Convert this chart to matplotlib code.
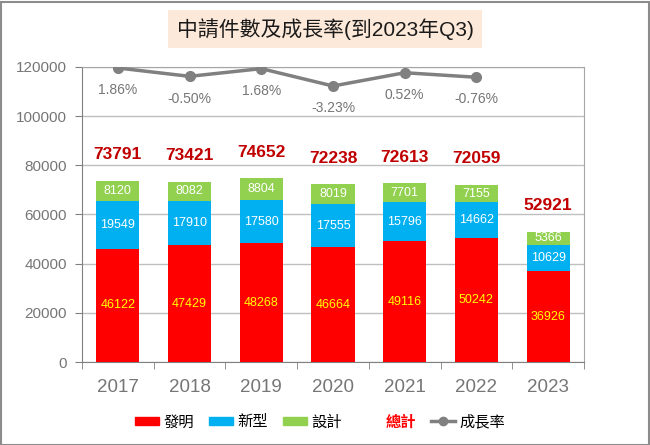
import matplotlib
matplotlib.use("Agg")
import matplotlib.pyplot as plt
from matplotlib.patches import Patch
from matplotlib.lines import Line2D

plt.rcParams['font.family'] = ['Liberation Sans', 'Noto Sans CJK TC', 'DejaVu Sans']

years = ['2017', '2018', '2019', '2020', '2021', '2022', '2023']
invention = [46122, 47429, 48268, 46664, 49116, 50242, 36926]
utility = [19549, 17910, 17580, 17555, 15796, 14662, 10629]
design = [8120, 8082, 8804, 8019, 7701, 7155, 5366]
totals = [73791, 73421, 74652, 72238, 72613, 72059, 52921]
growth_years = ['2017', '2018', '2019', '2020', '2021', '2022']
growth = [1.86, -0.50, 1.68, -3.23, 0.52, -0.76]
yticks = [0, 20000, 40000, 60000, 80000, 100000, 120000]

c_red = '#FF0000'
c_blue = '#00B0F0'
c_green = '#92D050'
c_gray = '#808080'
c_total = '#C00000'
c_tick = '#767676'

fig = plt.figure(figsize=(6.5, 4.45), dpi=100)
ax = fig.add_axes([82/650, 1-362/445, (584-82)/650, (362-67)/445])

x = list(range(len(years)))
w = 0.6
ax.bar(x, invention, w, color=c_red, zorder=3)
ax.bar(x, utility, w, bottom=invention, color=c_blue, zorder=3)
bottom3 = [a + b for a, b in zip(invention, utility)]
ax.bar(x, design, w, bottom=bottom3, color=c_green, zorder=3)

for i in x:
    ax.text(i, invention[i] / 2, str(invention[i]), ha='center', va='center',
            color='#FFFF00', fontsize=9, zorder=4)
    ax.text(i, invention[i] + utility[i] / 2, str(utility[i]), ha='center', va='center',
            color='white', fontsize=9, zorder=4)
    ax.text(i, bottom3[i] + design[i] / 2, str(design[i]), ha='center', va='center',
            color='white', fontsize=9, zorder=4)
    ax.annotate(str(totals[i]), (i, totals[i]), xytext=(0, 19), textcoords='offset points',
                ha='center', va='center', color=c_total, fontsize=12.5,
                fontweight='bold', zorder=4)

ax.set_ylim(0, 120000)
ax.set_xlim(-0.5, len(years) - 0.5)
ax.set_yticks(yticks)
ax.set_yticklabels([str(v) for v in yticks], fontsize=11, color=c_tick)
ax.set_xticks(x)
ax.set_xticklabels(years, fontsize=13.5, color=c_tick)
ax.tick_params(axis='x', length=0, pad=12)
ax.tick_params(axis='y', length=5, color=c_gray, pad=6)
ax.set_xticks([i - 0.5 for i in range(len(years) + 1)], minor=True)
ax.tick_params(axis='x', which='minor', length=5, color=c_gray)
ax.grid(axis='y', color='#BFBFBF', lw=1, zorder=0)
ax.set_axisbelow(True)
for s in ['left', 'bottom']:
    ax.spines[s].set_color(c_gray)
for s in ['right', 'top']:
    ax.spines[s].set_color('#A6A6A6')

ax2 = ax.twinx()
ax2.set_ylim(-81.2, 2.14)
gx = [years.index(g) for g in growth_years]
ax2.plot(gx, growth, color=c_gray, lw=2.5, marker='o', markersize=7, zorder=5)
for xi, g in zip(gx, growth):
    ax2.annotate(f'{g:.2f}%', (xi, g), xytext=(0, -16), textcoords='offset points',
                 ha='center', va='center', color=c_tick, fontsize=10)
ax2.set_yticks([])
for s in ax2.spines.values():
    s.set_visible(False)

fig.text(325/650, 1-29/445, '中請件數及成長率(到2023年Q3)', ha='center', va='center',
         fontsize=15, color='#1A1A1A',
         bbox=dict(boxstyle='square,pad=0.4', fc='#FDE9D9', ec='none'))

handles = [Patch(color=c_red), Patch(color=c_blue), Patch(color=c_green),
           Patch(color='none'), Line2D([], [], color=c_gray, lw=2.5, marker='o', markersize=6)]
labels = ['發明', '新型', '設計', '總計', '成長率']
leg = fig.legend(handles, labels, loc='center', bbox_to_anchor=(320/650, 1-422/445), ncol=5,
                 frameon=False, fontsize=11, handlelength=1.55, handleheight=0.5,
                 handletextpad=0.3, columnspacing=1.0)
for t in leg.get_texts():
    if t.get_text() == '總計':
        t.set_color(c_red)
        t.set_fontweight('bold')

fig.patches.append(plt.Rectangle((0.5/650, 0.5/445), 648/650, 443/445, transform=fig.transFigure,
                                 fill=False, ec='#8C8C8C', lw=1.5))

fig.savefig('out.png', dpi=100)
